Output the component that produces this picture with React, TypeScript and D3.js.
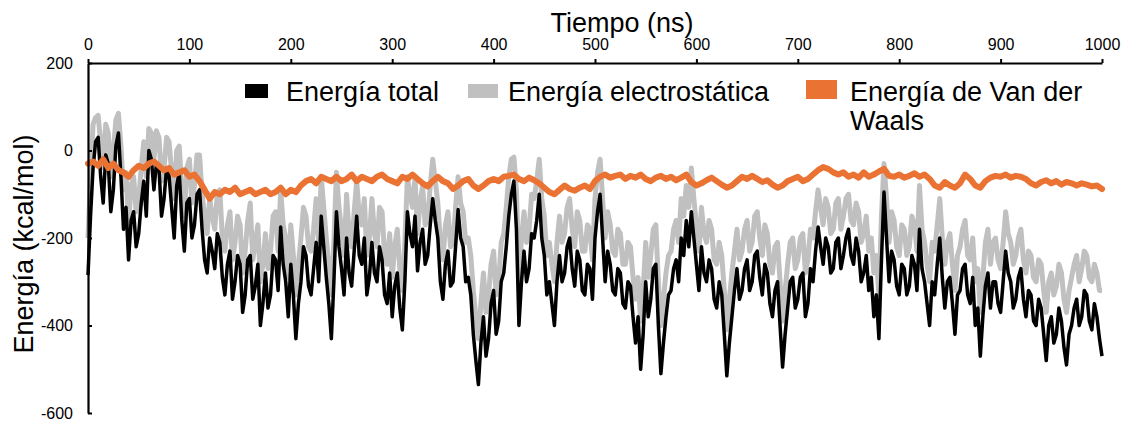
import React, { useRef, useEffect } from 'react'
import * as d3 from 'd3'

// total and electrostatic sampled every 2.5 ns, Van der Waals every 5 ns (0 .. 1000)
const fineStep = 2.5
const coarseStep = 5

const total = [
  -285, -150, -40, 20, 30, -60, -120, -10, -30, -140, -90, 10, 40, -60, -180, -130, -250, -160, -140, -220,
  -190, -120, -70, -150, 0, -20, -90, -30, -40, -150, -110, -40, -60, -130, -200, -80, -50, -160, -230, -120,
  -110, -200, -170, -100, -90, -180, -250, -280, -200, -230, -270, -190, -210, -290, -330, -260, -230, -340, -300, -240,
  -260, -370, -330, -250, -240, -340, -310, -260, -400, -350, -280, -360, -330, -240, -250, -320, -175, -260, -300, -380,
  -260, -330, -430, -350, -300, -220, -240, -310, -330, -270, -210, -300, -150, -220, -290, -350, -430, -300, -140, -220,
  -270, -330, -200, -280, -310, -230, -150, -240, -260, -200, -330, -290, -210, -280, -300, -220, -250, -330, -350, -280,
  -380, -310, -280, -360, -410, -300, -140, -190, -220, -150, -275, -210, -180, -260, -240, -170, -110, -160, -200, -300,
  -340, -260, -230, -310, -300, -220, -135, -200, -220, -300, -290, -330, -420, -480, -535, -440, -380, -470, -430, -350,
  -320, -420, -390, -300, -280, -220, -150, -100, -70, -180, -400, -300, -230, -300, -270, -190, -200, -160, -100, -200,
  -240, -330, -300, -350, -400, -300, -240, -300, -280, -220, -200, -270, -310, -230, -250, -320, -330, -260, -270, -340,
  -200, -140, -100, -200, -300, -230, -260, -320, -330, -270, -280, -350, -360, -300, -310, -380, -440, -380, -500, -420,
  -300, -380, -340, -270, -260, -400, -510, -440, -380, -330, -320, -270, -250, -300, -200, -240, -160, -220, -140, -200,
  -260, -320, -220, -280, -300, -250, -270, -340, -360, -300, -330, -420, -515, -440, -380, -320, -270, -340, -320, -270,
  -250, -320, -300, -240, -230, -290, -330, -260, -280, -350, -380, -320, -300, -400, -495, -420, -360, -300, -290, -360,
  -340, -290, -280, -380, -350, -270, -300, -230, -175, -220, -260, -200, -220, -280, -270, -210, -200, -270, -240, -200,
  -180, -240, -260, -200, -230, -300, -280, -240, -320, -290, -380, -330, -430, -250, -95, -200, -300, -230, -250, -310,
  -330, -260, -270, -330, -310, -240, -260, -320, -180, -270, -300, -350, -400, -300, -330, -260, -200, -290, -360, -300,
  -290, -350, -420, -330, -320, -270, -260, -330, -350, -290, -400, -360, -470, -380, -310, -280, -360, -300, -300, -350,
  -370, -300, -230, -280, -300, -360, -340, -290, -270, -340, -380, -320, -330, -390, -400, -340, -360, -420, -480, -400,
  -380, -440, -420, -360, -390, -450, -490, -420, -400, -360, -340, -400, -380, -320, -330, -390, -410, -350, -380, -430,
  -470,
]

const electro = [
  -200, -60, 60, 75, 80, 20, -40, 60, 40, -60, 0, 70, 85, 10, -90, -50, -170, -80, -60, -140,
  -110, -40, 20, -60, 50, 40, -20, 45, 30, -70, -40, 30, 20, -50, -110, 0, 10, -90, -150, -40,
  -20, -120, -80, -10, -10, -100, -150, -190, -110, -150, -180, -100, -90, -200, -230, -170, -140, -250, -210, -150,
  -170, -280, -230, -160, -120, -250, -210, -170, -300, -260, -190, -270, -230, -150, -140, -230, -90, -170, -200, -290,
  -170, -240, -330, -260, -200, -130, -150, -220, -230, -180, -110, -210, -60, -130, -200, -260, -330, -210, -50, -130,
  -180, -240, -100, -190, -220, -140, -70, -150, -170, -110, -240, -200, -110, -190, -220, -130, -140, -240, -260, -190,
  -290, -220, -180, -270, -320, -210, -60, -100, -130, -60, -190, -120, -80, -170, -160, -80, -20, -70, -120, -210,
  -250, -170, -140, -220, -210, -130, -60, -120, -140, -210, -200, -240, -320, -380, -430, -350, -280, -370, -330, -260,
  -230, -330, -300, -210, -190, -130, -60, -20, -15, -90, -300, -200, -140, -210, -180, -100, -110, -70, -20, -110,
  -150, -240, -210, -260, -300, -210, -150, -210, -190, -130, -110, -180, -220, -140, -160, -230, -230, -170, -180, -250,
  -110, -50, -20, -110, -200, -140, -170, -230, -240, -180, -190, -260, -260, -210, -220, -290, -340, -290, -390, -320,
  -210, -290, -240, -180, -170, -300, -400, -340, -280, -240, -230, -180, -160, -210, -110, -150, -80, -130, -40, -110,
  -170, -230, -130, -190, -210, -160, -180, -250, -260, -210, -240, -320, -410, -340, -280, -230, -180, -250, -230, -180,
  -160, -230, -210, -150, -140, -200, -240, -170, -190, -260, -280, -220, -210, -300, -390, -320, -260, -210, -200, -270,
  -250, -200, -190, -280, -250, -180, -200, -140, -90, -130, -170, -110, -130, -190, -180, -120, -110, -180, -150, -110,
  -100, -160, -170, -120, -140, -210, -190, -150, -230, -200, -280, -240, -330, -150, -30, -110, -210, -140, -160, -220,
  -240, -170, -180, -240, -220, -150, -170, -230, -80, -180, -210, -260, -300, -210, -230, -170, -110, -200, -260, -210,
  -190, -260, -320, -240, -220, -180, -160, -240, -250, -200, -300, -270, -370, -290, -210, -180, -260, -210, -200, -250,
  -270, -210, -140, -190, -210, -260, -240, -200, -180, -250, -280, -230, -240, -290, -300, -250, -260, -320, -370, -300,
  -280, -330, -310, -260, -280, -340, -370, -320, -290, -260, -240, -300, -270, -230, -240, -290, -300, -260, -280, -320,
  -320,
]

const vdw = [
  -30, -25, -35, -20, -40, -30, -45, -50, -60, -45,
  -35, -40, -30, -25, -35, -45, -40, -55, -50, -45,
  -60, -55, -70, -90, -110, -95, -100, -90, -95, -85,
  -100, -95, -90, -100, -95, -90, -100, -95, -85, -100,
  -90, -95, -80, -70, -65, -75, -60, -65, -70, -60,
  -70, -65, -55, -70, -60, -65, -70, -60, -55, -65,
  -70, -75, -60, -65, -55, -65, -75, -82, -70, -60,
  -70, -75, -88, -80, -70, -65, -80, -88, -80, -70,
  -65, -70, -60, -58, -55, -65, -70, -62, -68, -75,
  -85, -95, -100, -90, -80, -88, -92, -85, -80, -88,
  -70, -60, -55, -62, -58, -55, -65, -58, -62, -55,
  -65, -70, -62, -58, -65, -60, -68, -62, -55, -72,
  -80, -75, -68, -62, -70, -78, -85, -80, -70, -60,
  -65, -58, -65, -72, -68, -78, -85, -80, -70, -65,
  -60, -70, -65, -55, -45, -38, -42, -50, -55, -50,
  -60, -55, -62, -50, -60, -55, -48, -42, -58, -60,
  -55, -62, -58, -52, -60, -55, -65, -80, -85, -72,
  -80, -85, -75, -55, -65, -80, -85, -70, -62, -58,
  -60, -55, -62, -58, -60, -65, -75, -80, -72, -68,
  -75, -70, -78, -72, -75, -80, -75, -78, -82, -80,
  -88,
]

const xTicks = [0, 100, 200, 300, 400, 500, 600, 700, 800, 900, 1000]
const yTicks = [200, 0, -200, -400, -600]

const seriesNames = ['Energía total', 'Energía electrostática', 'Energía de Van der Waals']

const font = '"Liberation Sans", Arial, Helvetica, sans-serif'

const App = () => {
  const ref = useRef<SVGSVGElement>(null)

  useEffect(() => {
    drawChart()
  }, [])

  const drawChart = () => {
    const left = 88
    const right = 1102
    const top = 63
    const bottom = 413

    const svg = d3.select(ref.current)
    svg.selectAll('*').remove()

    const xScale = d3.scaleLinear().domain([0, 1000]).range([left, right])
    const yScale = d3.scaleLinear().domain([-600, 200]).range([bottom, top])

    const lineFor = (step: number) => d3.line<number>()
      .x((d, i) => xScale(i * step))
      .y(d => yScale(d))

    // electrostatic behind, then total, then vdW on top
    svg.append('path')
      .datum(electro)
      .attr('d', lineFor(fineStep))
      .attr('fill', 'none')
      .attr('stroke', '#c0c0c0')
      .attr('stroke-width', 5)
      .attr('stroke-linejoin', 'round')

    svg.append('path')
      .datum(total)
      .attr('d', lineFor(fineStep))
      .attr('fill', 'none')
      .attr('stroke', '#000')
      .attr('stroke-width', 3.5)
      .attr('stroke-linejoin', 'round')

    svg.append('path')
      .datum(vdw)
      .attr('d', lineFor(coarseStep))
      .attr('fill', 'none')
      .attr('stroke', '#ea7232')
      .attr('stroke-width', 6)
      .attr('stroke-linejoin', 'round')
      .attr('stroke-linecap', 'round')

    const xAxis = d3.axisTop(xScale)
      .tickValues(xTicks)
      .tickFormat(d => `${d}`)
      .tickSizeInner(4)
      .tickSizeOuter(0)
      .tickPadding(9)
    const yAxis = d3.axisLeft(yScale)
      .tickValues(yTicks)
      .tickFormat(d => `${d}`)
      .tickSizeInner(-4)
      .tickSizeOuter(0)
      .tickPadding(15)

    const gx = svg.append('g')
      .attr('transform', `translate(0, ${top})`)
      .call(xAxis)
    const gy = svg.append('g')
      .attr('transform', `translate(${left}, 0)`)
      .call(yAxis)

    for (const g of [gx, gy]) {
      g.select('.domain').attr('stroke', '#000').attr('stroke-width', 2.2)
      g.selectAll('.tick line').attr('stroke', '#000').attr('stroke-width', 2)
      g.selectAll('.tick text')
        .attr('fill', '#000')
        .style('font-family', font)
        .style('font-size', '16px')
    }

    svg.append('text')
      .attr('x', 622)
      .attr('y', 32)
      .attr('text-anchor', 'middle')
      .style('font-family', font)
      .style('font-size', '27px')
      .text('Tiempo (ns)')

    svg.append('text')
      .attr('transform', `translate(33, 244) rotate(-90)`)
      .attr('text-anchor', 'middle')
      .style('font-family', font)
      .style('font-size', '27px')
      .text('Energía (kcal/mol)')

    // legend
    const legend = [
      { name: seriesNames[0], color: '#000', rx: 245, rw: 23, ry: 84, rh: 14, tx: 286 },
      { name: seriesNames[1], color: '#c0c0c0', rx: 468, rw: 30, ry: 84, rh: 14, tx: 508 },
      { name: seriesNames[2], color: '#ea7232', rx: 806, rw: 31, ry: 80, rh: 19, tx: 850 },
    ]
    const lg = svg.append('g')
    legend.forEach(d => {
      lg.append('rect')
        .attr('x', d.rx)
        .attr('y', d.ry)
        .attr('width', d.rw)
        .attr('height', d.rh)
        .attr('fill', d.color)
    })
    lg.append('text')
      .attr('x', legend[0].tx)
      .attr('y', 101)
      .style('font-family', font)
      .style('font-size', '27px')
      .text(legend[0].name)
    lg.append('text')
      .attr('x', legend[1].tx)
      .attr('y', 101)
      .style('font-family', font)
      .style('font-size', '27px')
      .text(legend[1].name)
    // the third entry wraps onto two lines
    lg.append('text')
      .attr('x', legend[2].tx)
      .attr('y', 101)
      .style('font-family', font)
      .style('font-size', '27px')
      .text('Energía de Van der')
    lg.append('text')
      .attr('x', legend[2].tx)
      .attr('y', 130)
      .style('font-family', font)
      .style('font-size', '27px')
      .text('Waals')
  }

  return (
    <svg
      ref={ref}
      width={1122}
      height={423}
      style={{ position: 'absolute', left: 0, top: 0, background: '#fff' }}
    />
  )
}

export default App
